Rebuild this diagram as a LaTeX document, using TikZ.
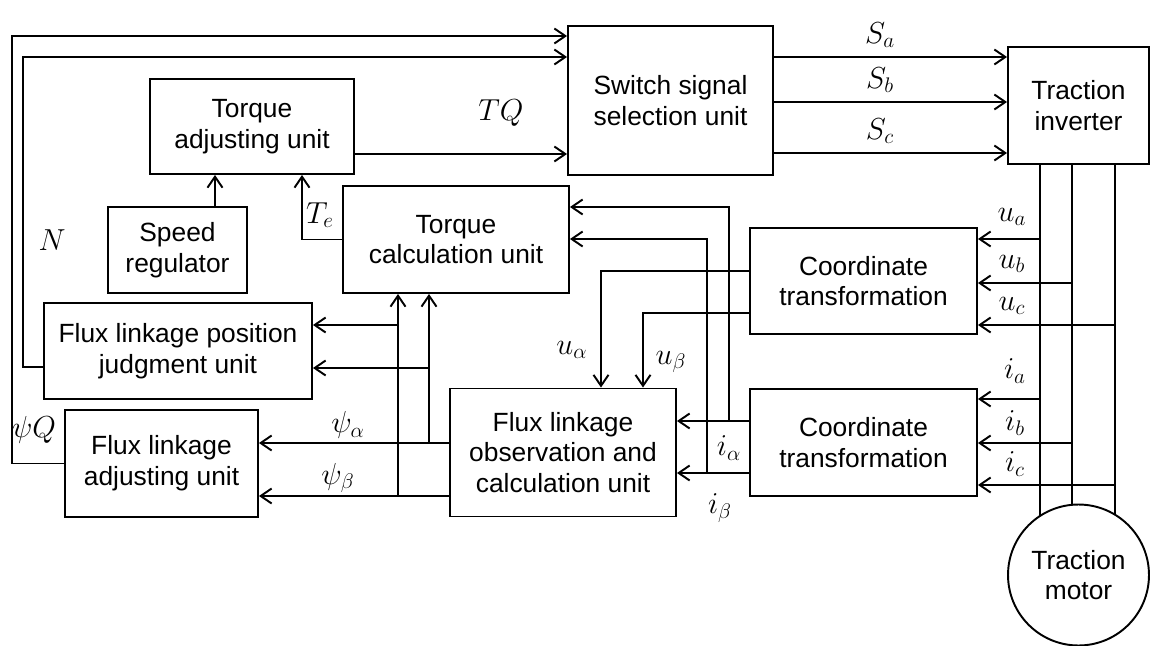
\documentclass[tikz,border=0pt]{standalone}
\usepackage{fontspec}
\setmainfont{Liberation Sans}
\usetikzlibrary{arrows.meta,backgrounds}
\tikzset{
  blk/.style ={draw,line width=1.1pt,align=center,inner sep=0pt,font=\fontsize{15}{17.5}\selectfont},
  sig/.style ={line width=1.1pt,-{Straight Barb[length=2.2mm,width=3mm]}},
  wire/.style={line width=1.1pt},
  lbl/.style ={inner sep=0pt,font=\fontsize{18}{20}\selectfont},
}
\begin{document}
\begin{tikzpicture}[x=0.02cm,y=-0.02cm]
  \useasboundingbox (0,0) rectangle (1157,646);
  % blocks
  \node[blk,minimum width=4.10cm,minimum height=2.98cm](sel) at (670.5,100.5){Switch signal\\selection unit};
  \node[blk,minimum width=2.82cm,minimum height=2.34cm](inv) at (1078.5,105.5){Traction\\inverter};
  \node[blk,minimum width=4.08cm,minimum height=1.90cm](tadj) at (252,126.5){Torque\\adjusting unit};
  \node[blk,minimum width=2.78cm,minimum height=1.72cm](spd) at (177.5,250){Speed\\regulator};
  \node[blk,minimum width=4.52cm,minimum height=2.14cm](tcal) at (456,239.5){Torque\\calculation unit};
  \node[blk,minimum width=4.54cm,minimum height=2.12cm](ctu) at (863.5,281){Coordinate\\transformation};
  \node[blk,minimum width=4.54cm,minimum height=2.14cm](cti) at (863.5,442.5){Coordinate\\transformation};
  \node[blk,minimum width=5.36cm,minimum height=1.92cm](fpj) at (178,351){Flux linkage position\\judgment unit};
  \node[blk,minimum width=3.86cm,minimum height=2.14cm](fadj) at (161.5,463.5){Flux linkage\\adjusting unit};
  \node[blk,minimum width=4.52cm,minimum height=2.56cm](fobs) at (563,452.5){Flux linkage\\observation and\\calculation unit};
  \node[blk,circle,fill=white,minimum size=2.82cm](motor) at (1078.5,575){Traction\\motor};
  % inverter to motor
  \begin{scope}[on background layer]
    \foreach \x in {1040,1072,1115}{\draw[wire](inv.south -| \x,0)--(motor.center -| \x,0);}
  \end{scope}
  % feedback to switch selection
  \draw[sig](fadj.west) -| (12,36) -- (sel.west |- 0,36);
  \draw[sig](fpj.west |- 0,367) -| (23,57) -- (sel.west |- 0,57);
  \draw[sig](tadj.east |- 0,154) -- (sel.west |- 0,154);
  \foreach \y/\s in {57/a,102/b,153/c}{
    \draw[sig](sel.east |- 0,\y) -- (inv.west |- 0,\y);
    \node[lbl](S\s) at (880,\y-22){$S_\s$};
  }
  \draw[sig](spd.north -| 215,0) -- (tadj.south -| 215,0);
  \draw[sig](tcal.west) -| (tadj.south -| 302,0);
  % measured voltages and currents
  \foreach \x/\y/\s/\l in {1040/239/a/217,1072/283/b/264,1115/325/c/306}{
    \draw[sig](\x,\y) -- (ctu.east |- 0,\y);
    \node[lbl](u\s) at (1012,\l){$u_\s$};
  }
  \foreach \x/\y/\s/\l in {1040/399/a/371,1072/443/b/423,1115/485/c/464}{
    \draw[sig](\x,\y) -- (cti.east |- 0,\y);
    \node[lbl](i\s) at (1015,\l){$i_\s$};
  }
  \draw[sig](ctu.west |- 0,271) -| (fobs.north -| 601,0);
  \draw[sig](ctu.west |- 0,313) -| (fobs.north -| 643,0);
  \draw[sig](cti.west |- 0,421) -- (fobs.east |- 0,421);
  \draw[sig](cti.west |- 0,473) -- (fobs.east |- 0,473);
  \draw[sig](729,421) |- (tcal.east |- 0,207);
  \draw[sig](707,473) |- (tcal.east |- 0,239);
  % observed flux
  \draw[sig](fobs.west |- 0,443) -- (fadj.east |- 0,443);
  \draw[sig](fobs.west |- 0,496) -- (fadj.east |- 0,496);
  \draw[sig](429,443) -- (tcal.south -| 429,0);
  \draw[sig](398,496) -- (tcal.south -| 398,0);
  \draw[sig](429,368) -- (fpj.east |- 0,368);
  \draw[sig](398,325) -- (fpj.east |- 0,325);
  % labels
  \node[lbl](tq) at (501,113){$TQ$};
  \node[lbl](te) at (320,215){$T_e$};
  \node[lbl](nn) at (52,240){$N$};
  \node[lbl](pq) at (34,430){$\psi Q$};
  \node[lbl](ual) at (572,350){$u_\alpha$};
  \node[lbl](ubt) at (671,362){$u_\beta$};
  \node[lbl](ial) at (729,448){$i_\alpha$};
  \node[lbl](ibt) at (720,508){$i_\beta$};
  \node[lbl](pal) at (348,425){$\psi_\alpha$};
  \node[lbl](pbt) at (338,478){$\psi_\beta$};
\end{tikzpicture}
\end{document}
